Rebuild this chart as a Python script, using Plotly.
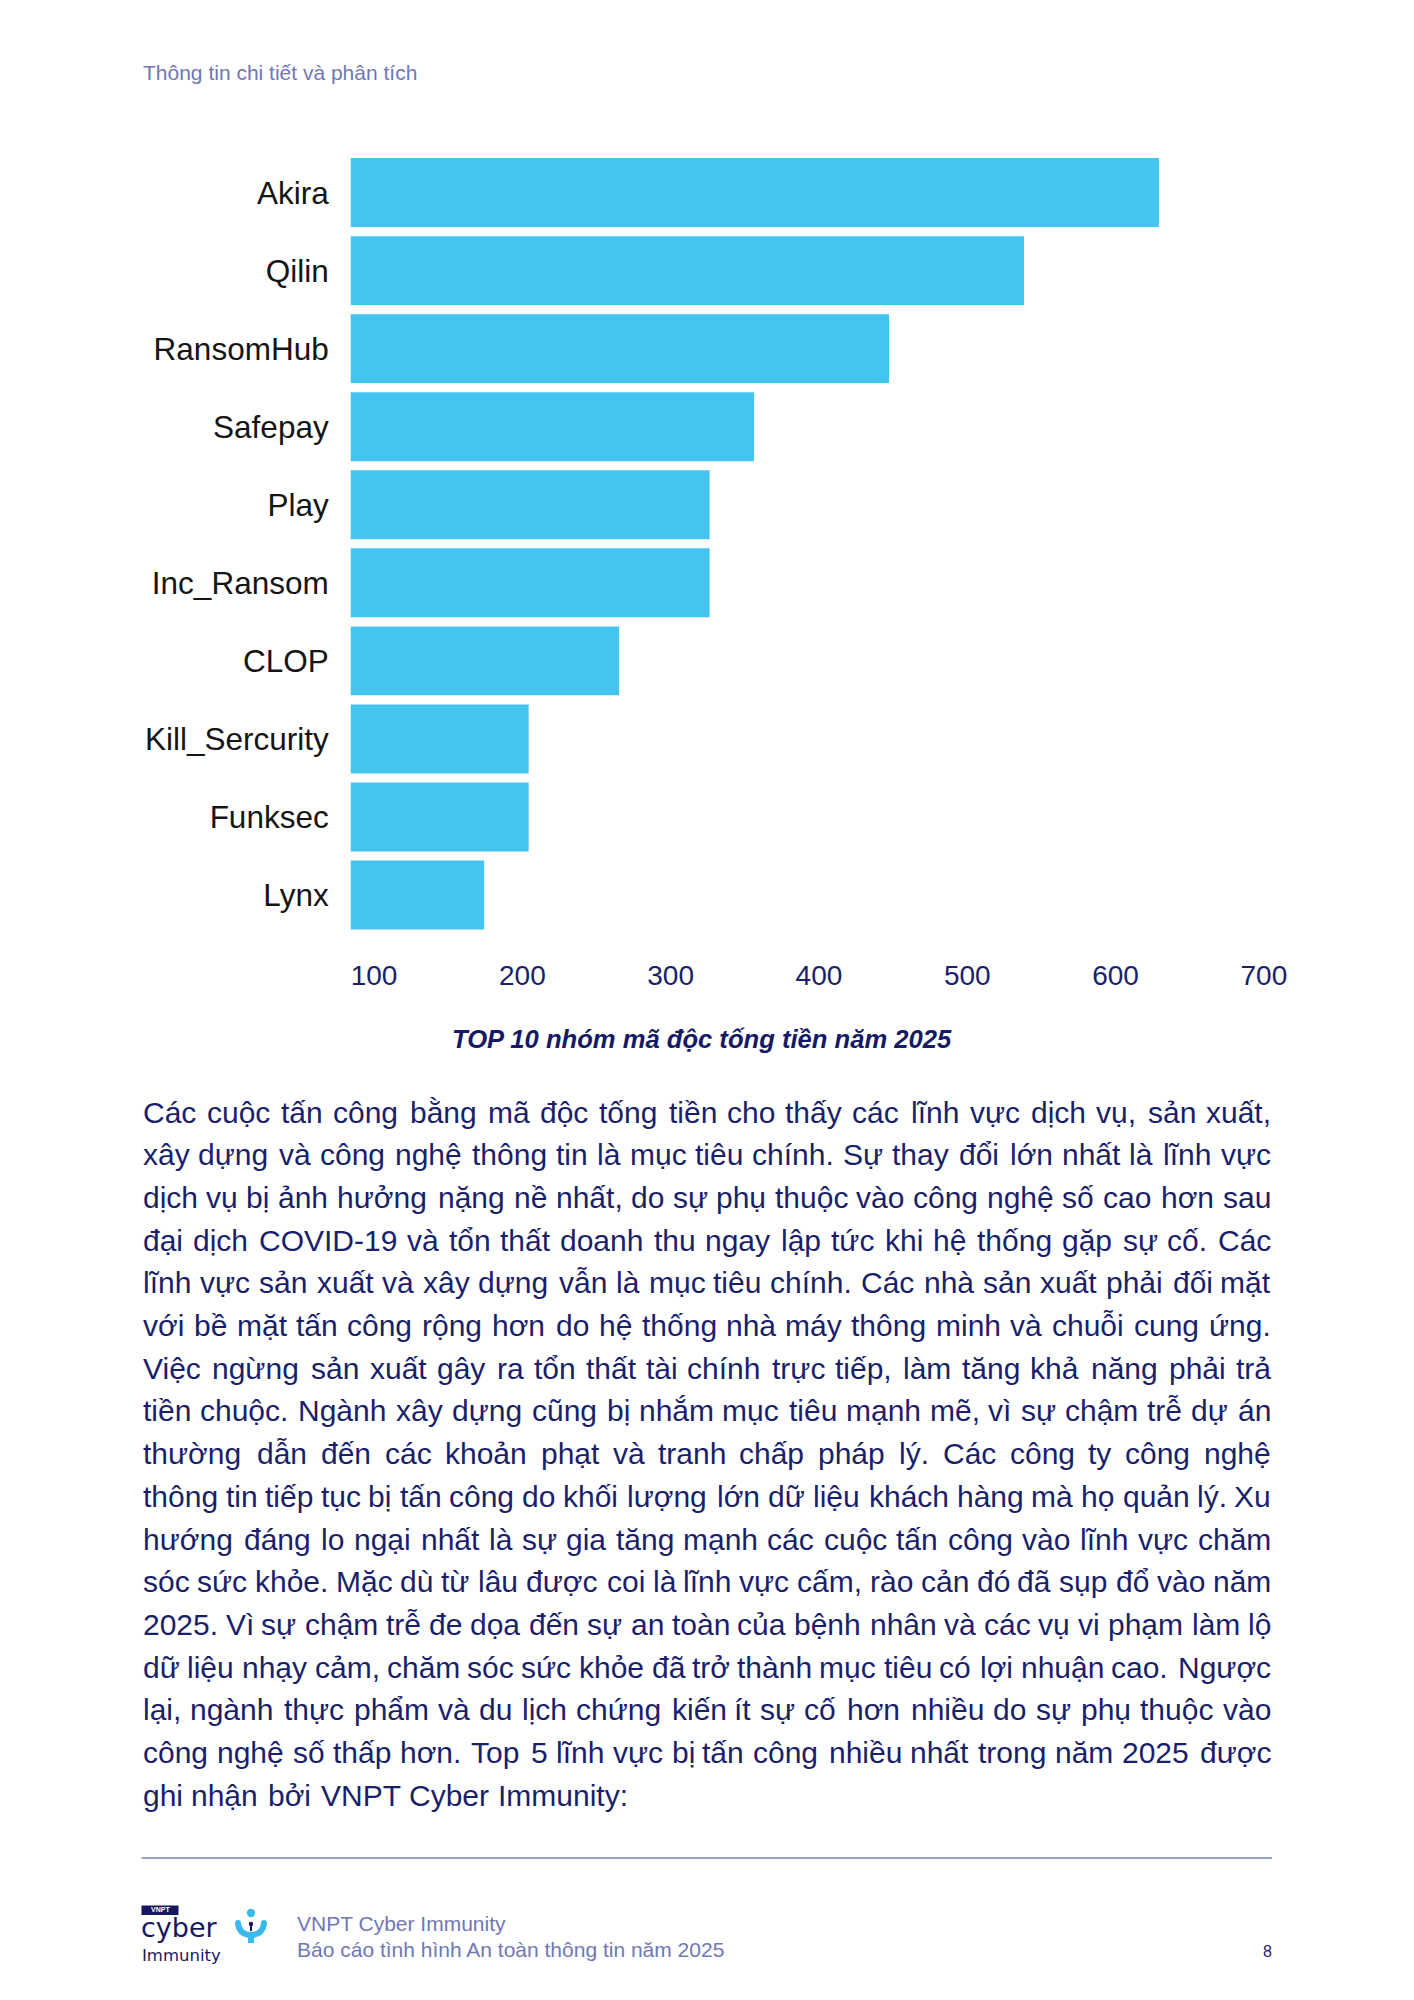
import unicodedata
import plotly.graph_objects as go

# ---------------- data ----------------
groups = ["Akira", "Qilin", "RansomHub", "Safepay", "Play", "Inc_Ransom",
          "CLOP", "Kill_Sercurity", "Funksec", "Lynx"]
attacks = [645, 554, 463, 372, 342, 342, 281, 220, 220, 190]
tick_values = [100, 200, 300, 400, 500, 600, 700]
tick_labels = ["100", "200", "300", "400", "500", "600", "700"]

header_text = "Thông tin chi tiết và phân tích"
caption_text = "TOP 10 nhóm mã độc tống tiền năm 2025"
body_lines = [
    "Các cuộc tấn công bằng mã độc tống tiền cho thấy các lĩnh vực dịch vụ, sản xuất,",
    "xây dựng và công nghệ thông tin là mục tiêu chính. Sự thay đổi lớn nhất là lĩnh vực",
    "dịch vụ bị ảnh hưởng nặng nề nhất, do sự phụ thuộc vào công nghệ số cao hơn sau",
    "đại dịch COVID-19 và tổn thất doanh thu ngay lập tức khi hệ thống gặp sự cố. Các",
    "lĩnh vực sản xuất và xây dựng vẫn là mục tiêu chính. Các nhà sản xuất phải đối mặt",
    "với bề mặt tấn công rộng hơn do hệ thống nhà máy thông minh và chuỗi cung ứng.",
    "Việc ngừng sản xuất gây ra tổn thất tài chính trực tiếp, làm tăng khả năng phải trả",
    "tiền chuộc. Ngành xây dựng cũng bị nhắm mục tiêu mạnh mẽ, vì sự chậm trễ dự án",
    "thường dẫn đến các khoản phạt và tranh chấp pháp lý. Các công ty công nghệ",
    "thông tin tiếp tục bị tấn công do khối lượng lớn dữ liệu khách hàng mà họ quản lý. Xu",
    "hướng đáng lo ngại nhất là sự gia tăng mạnh các cuộc tấn công vào lĩnh vực chăm",
    "sóc sức khỏe. Mặc dù từ lâu được coi là lĩnh vực cấm, rào cản đó đã sụp đổ vào năm",
    "2025. Vì sự chậm trễ đe dọa đến sự an toàn của bệnh nhân và các vụ vi phạm làm lộ",
    "dữ liệu nhạy cảm, chăm sóc sức khỏe đã trở thành mục tiêu có lợi nhuận cao. Ngược",
    "lại, ngành thực phẩm và du lịch chứng kiến ít sự cố hơn nhiều do sự phụ thuộc vào",
    "công nghệ số thấp hơn. Top 5 lĩnh vực bị tấn công nhiều nhất trong năm 2025 được",
    "ghi nhận bởi VNPT Cyber Immunity:",
]
footer_lines = ["VNPT Cyber Immunity", "Báo cáo tình hình An toàn thông tin năm 2025"]
page_number = "8"

# ---------------- page geometry helpers ----------------
W, H = 1414, 2000
OFF = 8  # default page body margin in the written html
FONT = "Liberation Sans, Arial, sans-serif"
LOGO_FONT = "DejaVu Sans, sans-serif"
NAVY = "#1a1f6b"
LILAC = "#7077b5"
BAR = "#44C5F0"


def px(x):
    return (x - OFF) / W


def py(y):
    return 1 - (y - OFF) / H


# Arial / Liberation Sans advance widths (1/1000 em) for text-justification
ARIAL = {' ': 278, ',': 278, '.': 278, ':': 278, '-': 333, '_': 556, '(': 333, ')': 333,
         'đ': 556, 'Đ': 722}
ARIAL.update(dict(zip("abcdefghijklmnopqrstuvwxyz",
                      [556, 556, 500, 556, 556, 278, 556, 556, 222, 222, 500, 222, 833,
                       556, 556, 556, 556, 333, 500, 278, 556, 500, 722, 500, 500, 500])))
ARIAL.update(dict(zip("ABCDEFGHIJKLMNOPQRSTUVWXYZ",
                      [667, 667, 722, 722, 667, 611, 778, 722, 278, 500, 667, 556, 833,
                       722, 778, 667, 778, 722, 667, 611, 722, 667, 944, 667, 667, 611])))
ARIAL.update({d: 556 for d in "0123456789"})


def text_width(s, size):
    total = 0
    for ch in s:
        d = unicodedata.normalize("NFD", ch)
        base = d[0]
        w = ARIAL.get(base, 556)
        if base == 'i' and any(m in d for m in "\u0300\u0301\u0303\u0309"):
            w = 278
        if '\u031b' in d:
            w += 140
        total += round(w * size / 1000)
    return total


# ---------------- chart ----------------
fig = go.Figure(go.Bar(
    x=attacks, y=groups, orientation="h",
    marker=dict(color=BAR, line=dict(width=0)),
    hoverinfo="x+y",
))

x0_px, unit = 350.7, 1.483
xmax = 745
fig.update_layout(
    width=W, height=H, autosize=False,
    margin=dict(l=0, r=0, t=0, b=0),
    paper_bgcolor="white", plot_bgcolor="white",
    showlegend=False, bargap=0.117,
    font=dict(family=FONT, color=NAVY),
    xaxis=dict(
        domain=[px(x0_px), px(x0_px + (xmax - 100) * unit)],
        range=[100, xmax],
        tickvals=tick_values, ticktext=tick_labels,
        ticklabelposition="outside right",
        ticks="", showgrid=False, zeroline=False, showline=False,
        tickfont=dict(family=FONT, size=28, color=NAVY),
        ticklabelstandoff=22,
    ),
    yaxis=dict(
        domain=[py(934.1), py(153.5)],
        type="category", categoryorder="array", categoryarray=groups,
        autorange="reversed",
        ticks="", showgrid=False, zeroline=False, showline=False,
        tickfont=dict(family=FONT, size=31.5, color="#151515"),
        ticklabelstandoff=21,
    ),
)

annotations = []
shapes = []


def note(text, x, y, size, color, xanchor="left", yanchor="middle", family=FONT):
    annotations.append(dict(
        text=text, x=px(x), y=py(y), xref="paper", yref="paper",
        xanchor=xanchor, yanchor=yanchor, showarrow=False, borderpad=0,
        font=dict(family=family, size=size, color=color)))


# header
note(header_text, 141.5, 72, 21, LILAC)

# caption
note("<b><i>" + caption_text + "</i></b>", 702, 1039, 25.6, "#141a66", xanchor="center")

# justified body text
left, right = 141.5, 1272
size = 30
for i, line in enumerate(body_lines):
    y = 1112 + i * 42.7
    words = line.split(" ")
    widths = [text_width(w, size) for w in words]
    justify = i < len(body_lines) - 1
    gap = (right - left - sum(widths)) / (len(words) - 1) if justify else text_width(" ", size)
    x = left
    for w, wd in zip(words, widths):
        if justify and x + wd / 2 > (left + right) / 2:
            note(w, x + wd, y, size, NAVY, xanchor="right")
        else:
            note(w, x, y, size, NAVY)
        x += wd + gap

# footer rule
shapes.append(dict(type="line", xref="paper", yref="paper",
                   x0=px(141.5), x1=px(1272), y0=py(1858), y1=py(1858),
                   line=dict(color="#9fa2cc", width=2)))

# footer texts
note(footer_lines[0], 296, 1923, 21, LILAC)
note(footer_lines[1], 296, 1949, 21, LILAC)
note(page_number, 1267, 1951, 16, NAVY, xanchor="center")

# logo
LOGO = "#16185e"
shapes.append(dict(type="rect", xref="paper", yref="paper",
                   x0=px(141.5), x1=px(178.5), y0=py(1915), y1=py(1905.5),
                   fillcolor=LOGO, line=dict(width=0)))
note("<b>VNPT</b>", 160, 1909.2, 7, "white", xanchor="center")
note("cyber", 140, 1944, 27, LOGO, yanchor="bottom", family=LOGO_FONT)
note("Immunity", 141, 1944.5, 16.5, LOGO, yanchor="top", family=LOGO_FONT)

ICON = "#3bb8ec"


def circ(cx, cy, r, color):
    shapes.append(dict(type="circle", xref="paper", yref="paper",
                       x0=px(cx - r), x1=px(cx + r), y0=py(cy + r), y1=py(cy - r),
                       fillcolor=color, line=dict(width=0)))


circ(251, 1913, 4.2, ICON)
path = "M {} {} Q {} {} {} {} Q {} {} {} {}".format(
    px(238), py(1924), px(240), py(1935), px(251), py(1935), px(262), py(1935), px(264), py(1924))
shapes.append(dict(type="path", xref="paper", yref="paper", path=path,
                   line=dict(color=ICON, width=6)))
shapes.append(dict(type="line", xref="paper", yref="paper",
                   x0=px(251), x1=px(251), y0=py(1935), y1=py(1943),
                   line=dict(color=ICON, width=6)))
circ(238, 1923, 3, ICON)
circ(264, 1923, 3, ICON)
circ(251, 1924, 2.2, LOGO)
shapes.append(dict(type="line", xref="paper", yref="paper",
                   x0=px(251), x1=px(251), y0=py(1925), y1=py(1931),
                   line=dict(color=LOGO, width=2)))

fig.update_layout(annotations=annotations, shapes=shapes)
fig.write_html("out.html")
